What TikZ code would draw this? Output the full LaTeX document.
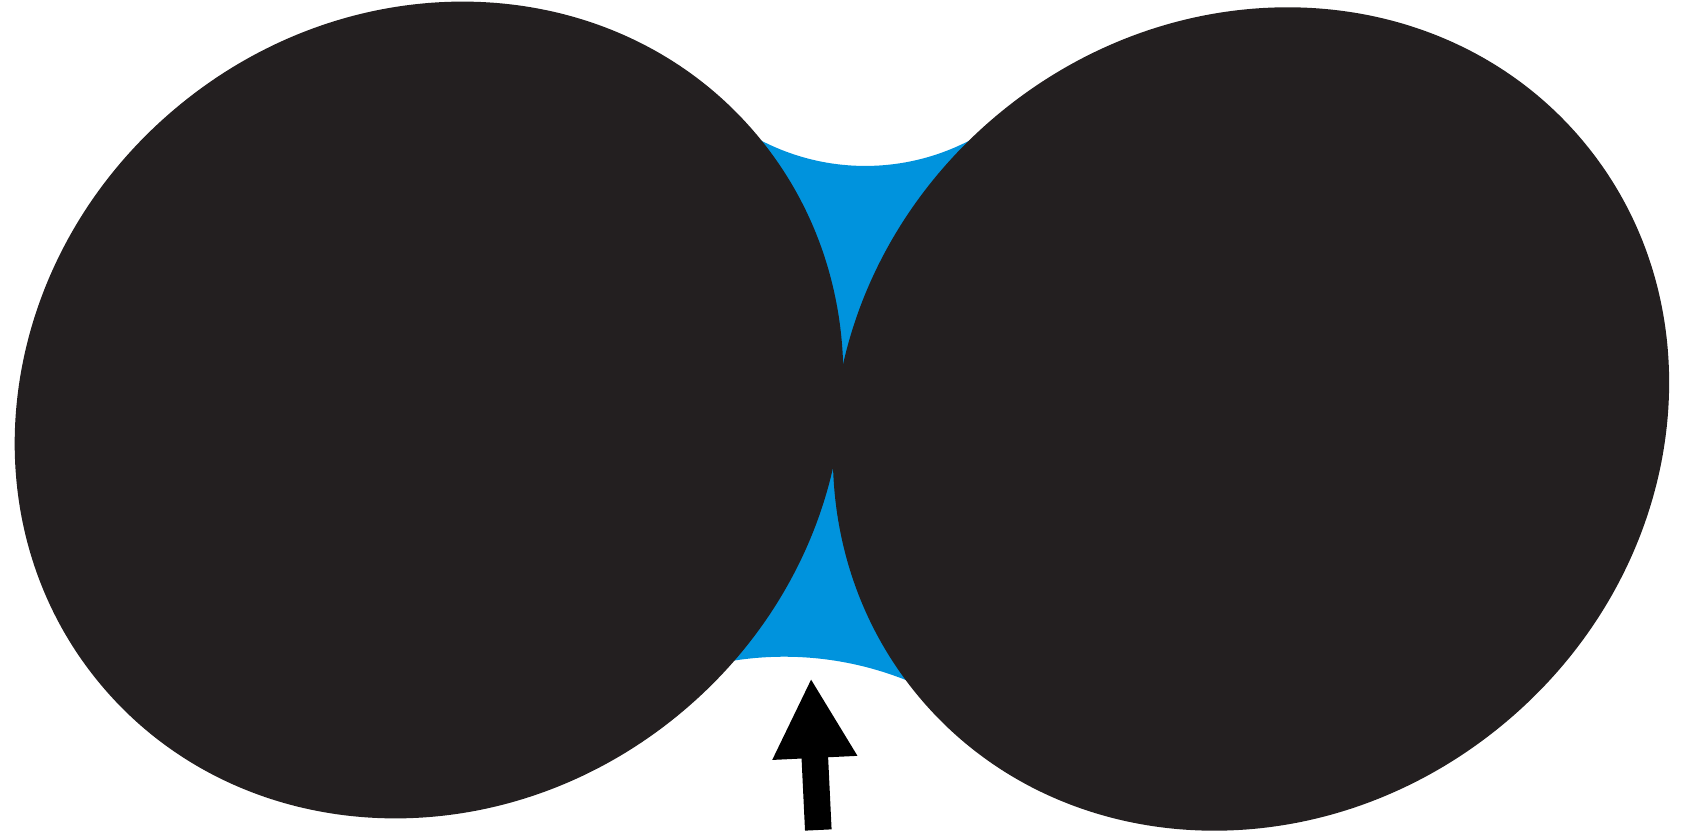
\documentclass[tikz,border=0pt]{standalone}
\usetikzlibrary{arrows.meta}
\definecolor{blobblack}{HTML}{231F20}
\definecolor{liquidblue}{HTML}{0093DD}
\tikzset{
  blob/.style={fill=blobblack},
  liquid/.style={fill=liquidblue},
  bigarrow/.style={draw=black, line width=26.6pt, -{Triangle[length=80pt, width=79pt]}}
}
\begin{document}
\begin{tikzpicture}[x=1pt, y=1pt]
\useasboundingbox (0,0) rectangle (1684,830);
% liquid bridge (behind the spheres)
\fill[liquid] (726.0,712.0) arc[start angle=232, end angle=301, radius=226.2pt]
  -- (1010,640) -- (950,415) -- (1000,200) -- (948.7,129.2)
  arc[start angle=60, end angle=110, radius=329pt]
  -- (700,200) -- (760,420) -- (700,620) -- cycle;
% spheres
\fill[blob, rotate around={40:(429,420)}] (429,420) ellipse [x radius=428pt, y radius=394pt];
\fill[blob, rotate around={40:(1251,411)}] (1251,411) ellipse [x radius=433pt, y radius=396pt];
% arrow
\coordinate (arrowtail) at (818.3,0);
\coordinate (arrowtip) at (811,152);
\draw[bigarrow] (arrowtail) -- (arrowtip);
\end{tikzpicture}
\end{document}
